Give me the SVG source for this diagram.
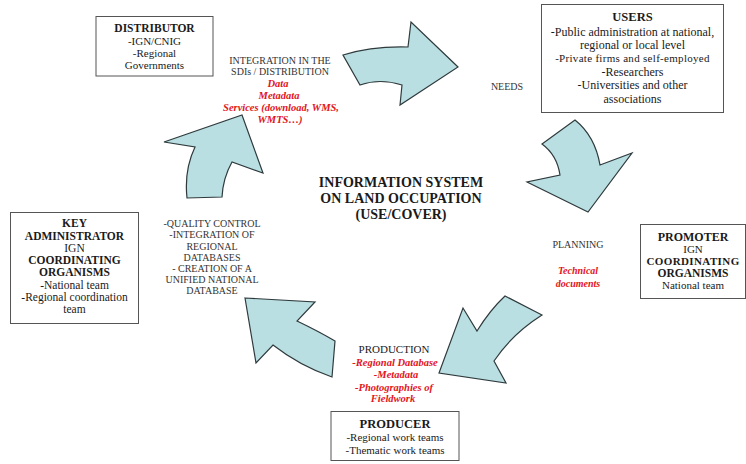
<svg xmlns="http://www.w3.org/2000/svg" width="746" height="464" viewBox="0 0 746 464">
  <style>
    text { font-family: "Liberation Serif", "Times New Roman", serif; fill: #1a1a1a; text-anchor: middle; }
    .box { fill: #ffffff; stroke: #555555; stroke-width: 1; }
    .arrow { fill: #b9dfe3; stroke: #2f3a3c; stroke-width: 1.2; stroke-linejoin: miter; }
    .b { font-weight: bold; }
    .red { fill: #e3141c; font-weight: bold; font-style: italic; }
    .lab { font-size: 10px; fill: #333333; }
    .title { font-size: 14px; font-weight: bold; }
  </style>

  <rect width="746" height="464" fill="#ffffff"/>

  <!-- cycle arrows -->
  <g id="connectors">
    <path class="arrow" d="M343,55 Q372,46 408,47 L411,22 L458,67 L400,105 L402,85 Q380,78 360,85 Z"/>
    <path class="arrow" d="M575,120 Q595,136 600,165 L632,153 L588,212 L527,182 L560,175 Q557,155 542,144 Z"/>
    <path class="arrow" d="M542,315 Q512,334 494,361 L506,383 L439,373 L463,308 L477,331 Q490,310 505,296 Z"/>
    <path class="arrow" d="M245,298 L315,302 L297,321 Q318,331 335,341 L332,377 Q300,366 273,345 L256,363 Z"/>
    <path class="arrow" d="M187,198 Q184,170 195,147 L164,142 L242,115 L263,173 L232,162 Q223,178 222,197 Z"/>
  </g>

  <!-- centre title -->
  <g id="title">
    <text class="title" x="401" y="187">INFORMATION SYSTEM</text>
    <text class="title" x="401" y="203">ON LAND OCCUPATION</text>
    <text class="title" x="401" y="219">(USE/COVER)</text>
  </g>

  <g id="distributor">
    <rect class="box" x="96" y="16.5" width="117" height="59.5"/>
    <text x="154.5" y="32" font-size="11.5" class="b">DISTRIBUTOR</text>
    <text x="154.5" y="45" font-size="11">-IGN/CNIG</text>
    <text x="154.5" y="57" font-size="11">-Regional</text>
    <text x="154.5" y="69" font-size="11">Governments</text>
  </g>

  <g id="integration">
    <text class="lab" x="280" y="64" font-size="10.5">INTEGRATION IN THE</text>
    <text class="lab" x="280" y="75" font-size="10.5">SDIs / DISTRIBUTION</text>
    <text class="red" x="278" y="87" font-size="10.5">Data</text>
    <text class="red" x="279" y="99" font-size="10.5">Metadata</text>
    <text class="red" x="281" y="111" font-size="10.5">Services (download, WMS,</text>
    <text class="red" x="280" y="123" font-size="10.5">WMTS…)</text>
  </g>

  <g id="users">
    <rect class="box" x="541.5" y="4.5" width="182" height="108"/>
    <text x="632.5" y="21" font-size="12.5" class="b">USERS</text>
    <text x="632.5" y="36" font-size="12">-Public administration at national,</text>
    <text x="632.5" y="49" font-size="12">regional or local level</text>
    <text x="632.5" y="62" font-size="11" fill="#444" letter-spacing="0.3">-Private firms and self-employed</text>
    <text x="632.5" y="76" font-size="12">-Researchers</text>
    <text x="632.5" y="89" font-size="12">-Universities and other</text>
    <text x="632.5" y="103" font-size="12">associations</text>
  </g>

  <g id="needs">
    <text class="lab" x="507" y="90" font-size="10.5">NEEDS</text>
  </g>

  <g id="planning">
    <text class="lab" x="578" y="248" font-size="10.5">PLANNING</text>
    <text class="red" x="578" y="274" font-size="10">Technical</text>
    <text class="red" x="578" y="287" font-size="10">documents</text>
  </g>

  <g id="promoter">
    <rect class="box" x="640.5" y="224.5" width="105" height="74"/>
    <text x="693" y="241" font-size="12" class="b">PROMOTER</text>
    <text x="693" y="253" font-size="11">IGN</text>
    <text x="693" y="264.5" font-size="11" class="b" letter-spacing="0.4">COORDINATING</text>
    <text x="693" y="276.5" font-size="11.5" class="b">ORGANISMS</text>
    <text x="693" y="289" font-size="11">National team</text>
  </g>

  <g id="production">
    <text x="394" y="353" font-size="11" fill="#333">PRODUCTION</text>
    <text class="red" x="395" y="366" font-size="10.5">-Regional Database</text>
    <text class="red" x="396" y="378" font-size="10.5">-Metadata</text>
    <text class="red" x="394" y="391" font-size="10.5">-Photographies of</text>
    <text class="red" x="393" y="402" font-size="10.5">Fieldwork</text>
  </g>

  <g id="producer">
    <rect class="box" x="331" y="411.5" width="128" height="49"/>
    <text x="395" y="428" font-size="12.5" class="b">PRODUCER</text>
    <text x="395" y="441" font-size="11">-Regional work teams</text>
    <text x="395" y="454" font-size="11">-Thematic work teams</text>
  </g>

  <g id="quality">
    <text class="lab" x="212" y="227" font-size="9.5">-QUALITY CONTROL</text>
    <text class="lab" x="212" y="238" font-size="9.5">-INTEGRATION OF</text>
    <text class="lab" x="212" y="250" font-size="9.5">REGIONAL</text>
    <text class="lab" x="212" y="261" font-size="9.5">DATABASES</text>
    <text class="lab" x="212" y="272" font-size="9.5">- CREATION OF A</text>
    <text class="lab" x="212" y="283" font-size="9.5">UNIFIED NATIONAL</text>
    <text class="lab" x="212" y="294" font-size="9.5">DATABASE</text>
  </g>

  <g id="key-administrator">
    <rect class="box" x="10.5" y="212.5" width="128" height="111"/>
    <text x="74.5" y="227" font-size="11.5" class="b">KEY</text>
    <text x="74.5" y="240" font-size="11.5" class="b">ADMINISTRATOR</text>
    <text x="74.5" y="252" font-size="11.5">IGN</text>
    <text x="74.5" y="264" font-size="11.5" class="b">COORDINATING</text>
    <text x="74.5" y="276" font-size="11.5" class="b">ORGANISMS</text>
    <text x="74.5" y="289" font-size="11.5">-National team</text>
    <text x="74.5" y="301" font-size="11.5">-Regional coordination</text>
    <text x="74.5" y="313" font-size="11.5">team</text>
  </g>
</svg>
